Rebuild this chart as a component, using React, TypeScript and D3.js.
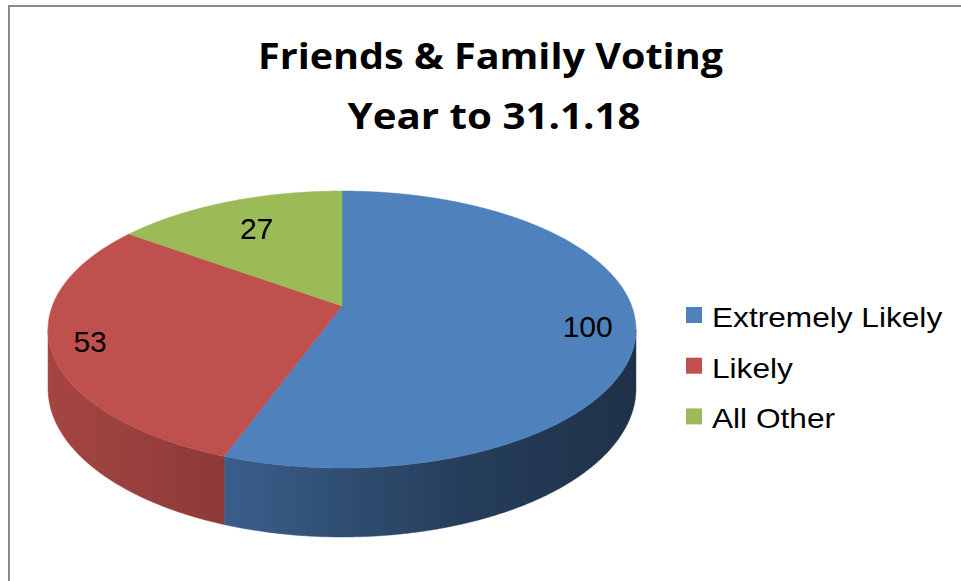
import React from 'react';
import * as d3 from 'd3';

// ---- data ----
const categories: string[] = ['Extremely Likely', 'Likely', 'All Other'];
const values: number[] = [100, 53, 27];
const colors: string[] = ['#4f81bd', '#c0504d', '#9bbb59'];
const titleLines: string[] = ['Friends & Family Voting', 'Year to 31.1.18'];

// ---- layout ----
const W = 961;
const H = 581;
const CX = 342;
const CY = 306;
const RX = 289.7;
const RY = 134.5;
const K = 0.1697; // perspective strength
const DEPTH = 57.3;
const labelRadius = [0.84, 0.87, 0.72];

function project(phi: number, r = 1, drop = 0): [number, number] {
  const u = r * Math.sin(phi);
  const v = -r * Math.cos(phi);
  const w = 1 - K * v;
  return [CX + (RX * u) / w, CY + (RY * v + drop) / w];
}

function arcPoints(a0: number, a1: number, drop = 0): [number, number][] {
  const n = Math.max(2, Math.ceil(Math.abs(a1 - a0) / 0.005));
  return d3.range(n + 1).map((i) => project(a0 + ((a1 - a0) * i) / n, 1, drop));
}

const line = d3.line<[number, number]>().x((d) => d[0]).y((d) => d[1]);

function shade(c: string, f: number): string {
  const r = d3.rgb(c);
  return d3.rgb(r.r * f, r.g * f, r.b * f).formatHex();
}

const gradStops = [
  [0, 0.86],
  [0.3, 0.73],
  [0.7, 0.48],
  [1, 0.38],
];

export default function App() {
  const pie = d3
    .pie<number>()
    .sort(null)
    .value((d) => d);
  const arcs = pie(values);

  const phiR = Math.acos(-K);
  const phiL = 2 * Math.PI - phiR;

  const sides = arcs
    .map((a, i) => {
      const s = Math.max(a.startAngle, phiR);
      const e = Math.min(a.endAngle, phiL);
      if (e <= s) return null;
      const top = arcPoints(s, e, 0);
      const bottom = arcPoints(e, s, DEPTH);
      return { i, d: line([...top, ...bottom])! + 'Z' };
    })
    .filter((x) => x !== null) as { i: number; d: string }[];

  const tops = arcs.map((a, i) => {
    const pts = [project(0, 0), ...arcPoints(a.startAngle, a.endAngle, 0)];
    return { i, d: line(pts)! + 'Z' };
  });

  const labels = arcs.map((a, i) => {
    const mid = (a.startAngle + a.endAngle) / 2;
    const [x, y] = project(mid, labelRadius[i]);
    return { x, y, text: String(values[i]) };
  });

  return (
    <svg
      width={W}
      height={H}
      style={{ position: 'absolute', left: 0, top: 0, background: '#fff' }}
    >
      <defs>
        {colors.map((c, i) => (
          <linearGradient
            key={i}
            id={`side${i}`}
            gradientUnits="userSpaceOnUse"
            x1={CX - RX * 1.015}
            x2={CX + RX * 1.015}
            y1={0}
            y2={0}
          >
            {gradStops.map(([o, f], j) => (
              <stop key={j} offset={o} stopColor={shade(c, f)} />
            ))}
          </linearGradient>
        ))}
      </defs>
      <rect x={0} y={0} width={W} height={H} fill="#fff" />
      <path d={`M9,${H + 5} V6 H${W + 5}`} fill="none" stroke="#8a8a8a" strokeWidth={2} />

      <g fontFamily="'Open Sans', Lato, sans-serif" fontWeight="bold" fontSize={36} fill="#000" textAnchor="middle">
        <text x={490.5} y={69} textLength={465} lengthAdjust="spacingAndGlyphs">
          {titleLines[0]}
        </text>
        <text x={494} y={129} textLength={293} lengthAdjust="spacingAndGlyphs">
          {titleLines[1]}
        </text>
      </g>

      {sides.map((s) => (
        <path key={`s${s.i}`} d={s.d} fill={`url(#side${s.i})`} stroke={`url(#side${s.i})`} strokeWidth={0.5} />
      ))}
      {tops.map((t) => (
        <path key={`t${t.i}`} d={t.d} fill={colors[t.i]} stroke={colors[t.i]} strokeWidth={0.5} />
      ))}

      <g fontFamily="'Liberation Sans', Arial, sans-serif" fontSize={30} fill="#000" textAnchor="middle">
        {labels.map((l, i) => (
          <text key={i} x={l.x} y={l.y + 10.7}>
            {l.text}
          </text>
        ))}
      </g>

      <g fontFamily="'Liberation Sans', Arial, sans-serif" fontSize={28} fill="#000">
        {categories.map((c, i) => (
          <g key={c} transform={`translate(0, ${i * 50.7})`}>
            <rect x={686} y={307} width={16} height={16} fill={colors[i]} />
            <text transform={`translate(712, 327) scale(1.13, 1)`}>{c}</text>
          </g>
        ))}
      </g>
    </svg>
  );
}
